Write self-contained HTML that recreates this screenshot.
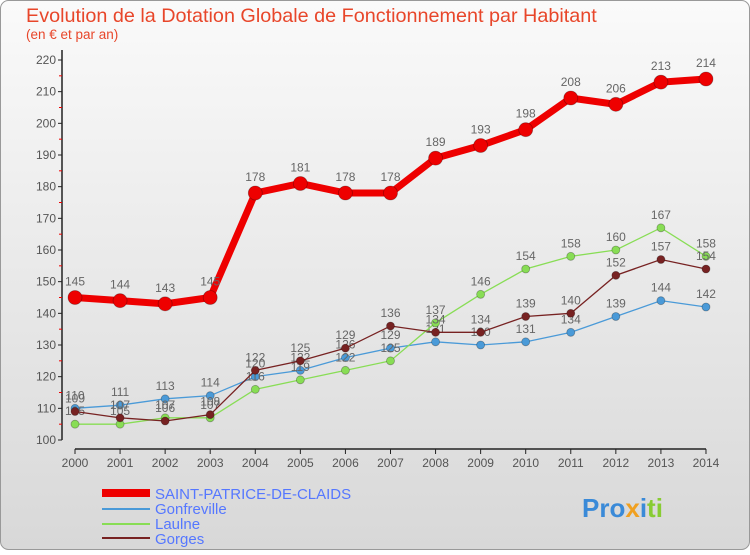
<!DOCTYPE html>
<html><head><meta charset="utf-8"><style>
body{margin:0}
#c{width:750px;height:550px;position:relative;font-family:"Liberation Sans","DejaVu Sans",sans-serif;}
</style></head><body>
<div id="c">
<svg id="s" width="750" height="550" xmlns="http://www.w3.org/2000/svg">
<defs><linearGradient id="bg" x1="0" y1="0" x2="0" y2="1"><stop offset="0" stop-color="#fafafa"/><stop offset="1" stop-color="#d8d8d8"/></linearGradient></defs>
<rect x="0.5" y="0.5" width="749" height="549" rx="8" fill="url(#bg)" stroke="#999"/>
<text x="26" y="22" font-size="19.8" fill="#e8462a">Evolution de la Dotation Globale de Fonctionnement par Habitant</text>
<text x="26" y="39" font-size="13.5" fill="#e8462a">(en € et par an)</text>
<g id="axes"></g><g id="series"></g>
<g>
<line x1="102" y1="493" x2="150" y2="493" stroke="#e00" stroke-width="8"/>
<text x="155" y="499" font-size="15" fill="#5577ff">SAINT-PATRICE-DE-CLAIDS</text>
<line x1="102" y1="509" x2="150" y2="509" stroke="#4a9ad8" stroke-width="2"/>
<text x="155" y="514" font-size="15" fill="#5577ff">Gonfreville</text>
<line x1="102" y1="524" x2="150" y2="524" stroke="#88dd55" stroke-width="2"/>
<text x="155" y="529" font-size="15" fill="#5577ff">Laulne</text>
<line x1="102" y1="538" x2="150" y2="538" stroke="#772222" stroke-width="2"/>
<text x="155" y="544" font-size="15" fill="#5577ff">Gorges</text>
</g>
<text x="582" y="517" font-size="26" font-weight="bold"><tspan fill="#3a8ad8">Pro</tspan><tspan fill="#f0a020">x</tspan><tspan fill="#3a8ad8">i</tspan><tspan fill="#88cc33">ti</tspan></text>
</svg></div>
<script>
const years=[2000,2001,2002,2003,2004,2005,2006,2007,2008,2009,2010,2011,2012,2013,2014];
const saint=[145,144,143,145,178,181,178,178,189,193,198,208,206,213,214];
const gonf=[110,111,113,114,120,122,126,129,131,130,131,134,139,144,142];
const laulne=[105,105,107,107,116,119,122,125,137,146,154,158,160,167,158];
const gorges=[109,107,106,108,122,125,129,136,134,134,139,140,152,157,154];
const yTicks=[100,110,120,130,140,150,160,170,180,190,200,210,220];
const NS='http://www.w3.org/2000/svg';
const X=i=>75+i*45.07, Y=v=>440-(v-100)*3.1667;
function mk(t,a,p){const e=document.createElementNS(NS,t);for(const k in a)e.setAttribute(k,a[k]);p.appendChild(e);return e;}
const ax=document.getElementById('axes');
mk('line',{x1:62,y1:50,x2:62,y2:440,stroke:'#222','stroke-width':1.5},ax);
mk('line',{x1:75,y1:449,x2:706,y2:449,stroke:'#222','stroke-width':1.5},ax);
yTicks.forEach(v=>{mk('line',{x1:58,y1:Y(v),x2:62,y2:Y(v),stroke:'#222'},ax);
if(v<220)mk('line',{x1:59,y1:Y(v+5),x2:62,y2:Y(v+5),stroke:'#e00'},ax);
const t=mk('text',{x:56,y:Y(v)+4,'font-size':12,fill:'#555','text-anchor':'end'},ax);t.textContent=v;
});
years.forEach((y,i)=>{mk('line',{x1:X(i),y1:449,x2:X(i),y2:454,stroke:'#222'},ax);
const t=mk('text',{x:X(i),y:467,'font-size':12,fill:'#555','text-anchor':'middle'},ax);t.textContent=y;
});
const sg=document.getElementById('series');
function draw(vals,col,w,r,name){const g=mk('g',{},sg);

mk('polyline',{points:vals.map((v,i)=>X(i)+','+Y(v)).join(' '),fill:'none',stroke:col,'stroke-width':w},g);
vals.forEach((v,i)=>{const c=mk('circle',{cx:X(i),cy:Y(v),r:r,fill:col,stroke:'rgba(0,0,0,0.3)','stroke-width':0.8},g);

const t=mk('text',{x:X(i),y:Y(v)-(r+5),'font-size':12,fill:'#666','text-anchor':'middle'},g);t.textContent=v;});}
draw(gonf,'#4a9ad8',1.3,4,'gonfreville-series');
draw(laulne,'#88dd55',1.3,4,'laulne-series');
draw(gorges,'#772222',1.3,4,'gorges-series');
draw(saint,'#ee0000',7,7,'saint-patrice-series');
</script></body></html>
